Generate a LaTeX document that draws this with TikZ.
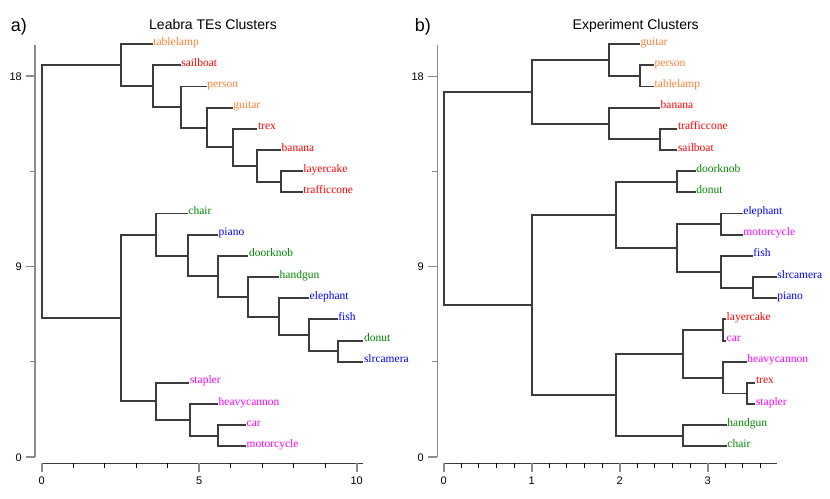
\documentclass[tikz,border=0pt]{standalone}
\usepackage{fontspec}
\setmainfont{Liberation Serif}
\newfontfamily\axfont{Liberation Sans}
\definecolor{corange}{RGB}{255,128,48}
\definecolor{cred}{RGB}{255,0,0}
\definecolor{cgreen}{RGB}{0,135,0}
\definecolor{cblue}{RGB}{0,0,255}
\definecolor{cmag}{RGB}{255,0,255}
\definecolor{treecol}{RGB}{60,60,60}
\definecolor{axgray}{RGB}{140,140,140}
\newcommand\mkleaf[5]{%
  \coordinate (#1) at (#2,{457-21.17*(#3+0.5)});
  \node[lab,text=#4] (#1-t) at (#1) {#5};}
\begin{document}
\begin{tikzpicture}[x=1pt,y=-1pt,
  tree/.style={draw=treecol,line width=1.9pt},
  lab/.style={inner sep=0pt,anchor=base west,xshift=0.5pt,yshift=-1pt,font=\fontsize{11.5}{13}\selectfont},
  axlab/.style={inner sep=0pt,font=\axfont\fontsize{11}{13}\selectfont},
  yax/.style={draw=axgray,line width=1.2pt},
  xax/.style={draw=treecol,line width=1.2pt},
  majtick/.style={draw=axgray,line width=1.6pt},
  mintick/.style={draw=black,line width=1pt},
  ttl/.style={inner sep=0pt,anchor=base,font=\axfont\fontsize{14}{16}\selectfont},
  pnl/.style={inner sep=0pt,anchor=base west,font=\axfont\fontsize{18}{20}\selectfont}]
\useasboundingbox (0,0) rectangle (830,498);
% ---------- titles
\node[pnl] (pa) at (10.7,31.7) {a)};
\node[ttl] (ta) at (213,29) {Leabra TEs Clusters};
\node[pnl] (pb) at (414.7,31.7) {b)};
\node[ttl] (tb) at (635.7,29.5) {Experiment Clusters};
% ---------- left axes
\draw[yax] (35,45) -- (35,457);
\foreach \yy/\tx in {457/0,266.5/9,76/18}{
  \draw[yax] (26,\yy) -- (35,\yy);
  \node[axlab,anchor=base east] at (22,\yy+4) {\tx};}
\foreach \yy in {361.7,171.2} \draw[yax] (30,\yy) -- (35,\yy);
\draw[xax] (41.7,463.3) -- (363.3,463.3);
\foreach \i in {1,2,3,4,6,7,8,9} \draw[mintick] (41.7+31.5*\i,463.3) -- (41.7+31.5*\i,467.5);
\foreach \i in {0,5,10}{
  \draw[majtick] (41.7+31.5*\i,463.3) -- (41.7+31.5*\i,472.3);
  \node[axlab,anchor=base] at (41.7+31.5*\i,484) {\i};}
% ---------- right axes
\draw[yax] (437.3,45) -- (437.3,457);
\foreach \yy/\tx in {457/0,266.5/9,76.5/18}{
  \draw[yax] (428.3,\yy) -- (437.3,\yy);
  \node[axlab,anchor=base east] at (424,\yy+4) {\tx};}
\foreach \yy in {361.7,171.5} \draw[yax] (432.3,\yy) -- (437.3,\yy);
\draw[xax] (443.7,463.3) -- (776.7,463.3);
\foreach \i in {1,2,3,4,6,7,8,9,11,12,13,14,16,17,18} \draw[mintick] (443.7+17.6*\i,463.3) -- (443.7+17.6*\i,467.5);
\foreach \i in {0,1,2,3}{
  \draw[majtick] (443.7+88*\i,463.3) -- (443.7+88*\i,472.3);
  \node[axlab,anchor=base] at (443.7+88*\i,484) {\i};}
% ---------- left tree leaves
\mkleaf{la1}{152.7}{19}{corange}{tablelamp}
\mkleaf{la2}{180.7}{18}{cred}{sailboat}
\mkleaf{la3}{206.7}{17}{corange}{person}
\mkleaf{la4}{232.7}{16}{corange}{guitar}
\mkleaf{la5}{257.3}{15}{cred}{trex}
\mkleaf{la6}{281}{14}{cred}{banana}
\mkleaf{la7}{302.7}{13}{cred}{layercake}
\mkleaf{la8}{302.7}{12}{cred}{trafficcone}
\mkleaf{la9}{187.7}{11}{cgreen}{chair}
\mkleaf{la10}{218}{10}{cblue}{piano}
\mkleaf{la11}{248.3}{9}{cgreen}{doorknob}
\mkleaf{la12}{279}{8}{cgreen}{handgun}
\mkleaf{la13}{309}{7}{cblue}{elephant}
\mkleaf{la14}{337.7}{6}{cblue}{fish}
\mkleaf{la15}{363.3}{5}{cgreen}{donut}
\mkleaf{la16}{363.3}{4}{cblue}{slrcamera}
\mkleaf{la17}{189.3}{3}{cmag}{stapler}
\mkleaf{la18}{218}{2}{cmag}{heavycannon}
\mkleaf{la19}{246}{1}{cmag}{car}
\mkleaf{la20}{246}{0}{cmag}{motorcycle}
% left internal nodes
\coordinate (ln1) at (281,181.80);
\coordinate (ln2) at (257.3,165.92);
\coordinate (ln3) at (233,147.40);
\coordinate (ln4) at (206.7,127.55);
\coordinate (ln5) at (180.7,107.04);
\coordinate (ln6) at (153.3,86.2);
\coordinate (ln7) at (120.7,65.2);
\coordinate (ln8) at (337.7,351.16);
\coordinate (ln9) at (309,335.28);
\coordinate (ln10) at (279,316.76);
\coordinate (ln11) at (248.3,296.91);
\coordinate (ln12) at (218,276.4);
\coordinate (ln13) at (187.7,255.56);
\coordinate (ln14) at (156.3,234.56);
\coordinate (ln15) at (218,435.84);
\coordinate (ln16) at (190,419.96);
\coordinate (ln17) at (156.3,401.44);
\coordinate (ln18) at (120.7,318.0);
\coordinate (ln19) at (41.7,191.6);
\foreach \p/\a/\b in {ln1/la7/la8,ln2/la6/ln1,ln3/la5/ln2,ln4/la4/ln3,ln5/la3/ln4,ln6/la2/ln5,ln7/la1/ln6,
  ln8/la15/la16,ln9/la14/ln8,ln10/la13/ln9,ln11/la12/ln10,ln12/la11/ln11,ln13/la10/ln12,ln14/la9/ln13,
  ln15/la19/la20,ln16/la18/ln15,ln17/la17/ln16,ln18/ln14/ln17,ln19/ln7/ln18}
  \draw[tree] (\a) -| (\p) |- (\b);
% ---------- right tree leaves
\mkleaf{rb1}{640}{19}{corange}{guitar}
\mkleaf{rb2}{654}{18}{corange}{person}
\mkleaf{rb3}{654}{17}{corange}{tablelamp}
\mkleaf{rb4}{660}{16}{cred}{banana}
\mkleaf{rb5}{677.3}{15}{cred}{trafficcone}
\mkleaf{rb6}{677.3}{14}{cred}{sailboat}
\mkleaf{rb7}{695.7}{13}{cgreen}{doorknob}
\mkleaf{rb8}{695.7}{12}{cgreen}{donut}
\mkleaf{rb9}{742.7}{11}{cblue}{elephant}
\mkleaf{rb10}{742.7}{10}{cmag}{motorcycle}
\mkleaf{rb11}{752.7}{9}{cblue}{fish}
\mkleaf{rb12}{776.7}{8}{cblue}{slrcamera}
\mkleaf{rb13}{776.7}{7}{cblue}{piano}
\mkleaf{rb14}{726}{6}{cred}{layercake}
\mkleaf{rb15}{726}{5}{cmag}{car}
\mkleaf{rb16}{746.7}{4}{cmag}{heavycannon}
\mkleaf{rb17}{755.3}{3}{cred}{trex}
\mkleaf{rb18}{755.3}{2}{cmag}{stapler}
\mkleaf{rb19}{726.7}{1}{cgreen}{handgun}
\mkleaf{rb20}{726.7}{0}{cgreen}{chair}
% right internal nodes
\coordinate (rn1) at (640,75.95);
\coordinate (rn2) at (609.3,60.07);
\coordinate (rn3) at (659.7,139.3);
\coordinate (rn4) at (609.3,123.58);
\coordinate (rn5) at (532,91.83);
\coordinate (rn6) at (676.7,181.80);
\coordinate (rn7) at (721.3,224.14);
\coordinate (rn8) at (753.3,287.65);
\coordinate (rn9) at (721.3,271.77);
\coordinate (rn10) at (676.7,247.96);
\coordinate (rn11) at (616,214.88);
\coordinate (rn12) at (722.7,329.99);
\coordinate (rn13) at (746.7,393.5);
\coordinate (rn14) at (722.7,377.62);
\coordinate (rn15) at (682.7,353.8);
\coordinate (rn16) at (682.7,435.84);
\coordinate (rn17) at (615.7,394.82);
\coordinate (rn18) at (532,304.85);
\coordinate (rn19) at (443.7,198.34);
\foreach \p/\a/\b in {rn1/rb2/rb3,rn2/rb1/rn1,rn3/rb5/rb6,rn4/rb4/rn3,rn5/rn2/rn4,
  rn6/rb7/rb8,rn7/rb9/rb10,rn8/rb12/rb13,rn9/rb11/rn8,rn10/rn7/rn9,rn11/rn6/rn10,
  rn12/rb14/rb15,rn13/rb17/rb18,rn14/rb16/rn13,rn15/rn12/rn14,rn16/rb19/rb20,rn17/rn15/rn16,
  rn18/rn11/rn17,rn19/rn5/rn18}
  \draw[tree] (\a) -| (\p) |- (\b);
\end{tikzpicture}
\end{document}
